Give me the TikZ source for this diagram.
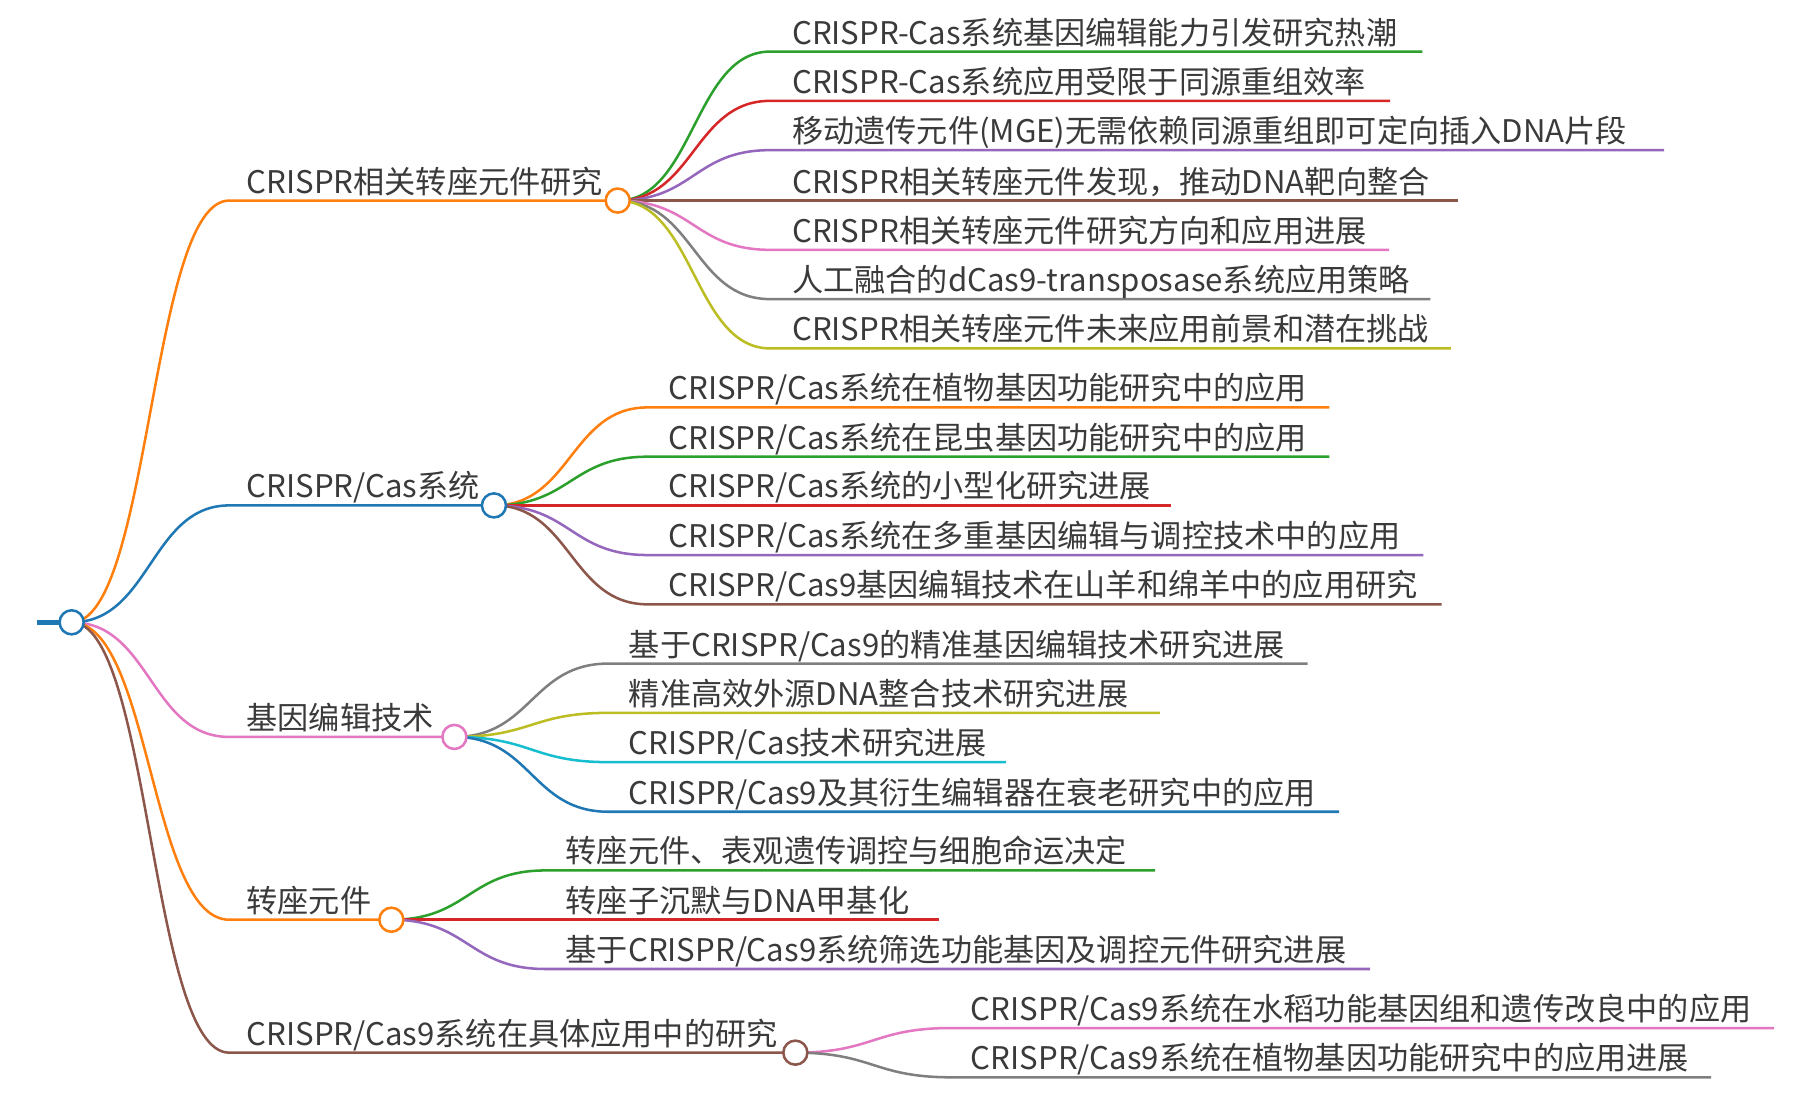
\documentclass[tikz,border=0pt]{standalone}
\usepackage{fontspec}
\setmainfont{Noto Sans CJK SC}
\usetikzlibrary{calc,backgrounds}
\definecolor{cblue}{HTML}{1F77B4}
\definecolor{corange}{HTML}{FF7F0E}
\definecolor{cgreen}{HTML}{2CA02C}
\definecolor{cred}{HTML}{D62728}
\definecolor{cpurple}{HTML}{9467BD}
\definecolor{cbrown}{HTML}{8C564B}
\definecolor{cpink}{HTML}{E377C2}
\definecolor{cgray}{HTML}{7F7F7F}
\definecolor{colive}{HTML}{BCBD22}
\definecolor{ccyan}{HTML}{17BECF}
\definecolor{txt}{HTML}{3A3A3A}
\begin{document}
\begin{tikzpicture}[x=1pt,y=-1pt,
  lbl/.style={anchor=base west, inner sep=0pt, text=txt, font=\fontsize{27.2}{30}\selectfont},
  dot/.style={circle, draw, fill=white, line width=2.2pt, minimum size=21pt, inner sep=0pt},
  lnk/.style={line width=2.2pt, to path={let \p1=(\tikztostart), \p2=(\tikztotarget) in
     .. controls ({(\x1+\x2)/2},\y1) and ({(\x1+\x2)/2},\y2) .. (\tikztotarget)}},
  seg/.style={line width=2.2pt}
]
\useasboundingbox (0,0) rectangle (1568,962);

% root
\coordinate (stub) at (32,543);
\node[dot, draw=cblue] (R) at (62.5,543) {};

% ---------- branch 1
\coordinate (b1s) at (200,175);
\node[dot, draw=corange] (b1) at (539,175) {};
\node[lbl] (b1t) at (215,168.5) {CRISPR相关转座元件研究};
\coordinate (l11s) at (672,45);  \coordinate (l11e) at (1241,45);
\coordinate (l12s) at (672,88);  \coordinate (l12e) at (1213,88);
\coordinate (l13s) at (672,131); \coordinate (l13e) at (1452,131);
\coordinate (l14s) at (672,175); \coordinate (l14e) at (1272,175);
\coordinate (l15s) at (672,218); \coordinate (l15e) at (1212,218);
\coordinate (l16s) at (672,261); \coordinate (l16e) at (1248,261);
\coordinate (l17s) at (672,304); \coordinate (l17e) at (1266,304);
\node[lbl] (l11) at (691,38.5)  {CRISPR-Cas系统基因编辑能力引发研究热潮};
\node[lbl] (l12) at (691,81.5)  {CRISPR-Cas系统应用受限于同源重组效率};
\node[lbl] (l13) at (691,124.5) {移动遗传元件(MGE)无需依赖同源重组即可定向插入DNA片段};
\node[lbl] (l14) at (691,168.5) {CRISPR相关转座元件发现，推动DNA靶向整合};
\node[lbl] (l15) at (691,211.5) {CRISPR相关转座元件研究方向和应用进展};
\node[lbl] (l16) at (691,254.5) {人工融合的dCas9-transposase系统应用策略};
\node[lbl] (l17) at (691,297.5) {CRISPR相关转座元件未来应用前景和潜在挑战};

% ---------- branch 2
\coordinate (b2s) at (200,441);
\node[dot, draw=cblue] (b2) at (431,441) {};
\node[lbl] (b2t) at (215,434.5) {CRISPR/Cas系统};
\coordinate (l21s) at (565,355.5); \coordinate (l21e) at (1160,355.5);
\coordinate (l22s) at (565,398.5); \coordinate (l22e) at (1160,398.5);
\coordinate (l23s) at (565,441);   \coordinate (l23e) at (1022,441);
\coordinate (l24s) at (565,484.3); \coordinate (l24e) at (1242,484.3);
\coordinate (l25s) at (565,527.3); \coordinate (l25e) at (1258,527.3);
\node[lbl] (l21) at (583,349)   {CRISPR/Cas系统在植物基因功能研究中的应用};
\node[lbl] (l22) at (583,392)   {CRISPR/Cas系统在昆虫基因功能研究中的应用};
\node[lbl] (l23) at (583,434.5) {CRISPR/Cas系统的小型化研究进展};
\node[lbl] (l24) at (583,477.8) {CRISPR/Cas系统在多重基因编辑与调控技术中的应用};
\node[lbl] (l25) at (583,520.8) {CRISPR/Cas9基因编辑技术在山羊和绵羊中的应用研究};

% ---------- branch 3
\coordinate (b3s) at (200,643);
\node[dot, draw=cpink] (b3) at (396.5,643) {};
\node[lbl] (b3t) at (215,636.5) {基因编辑技术};
\coordinate (l31s) at (531,579);   \coordinate (l31e) at (1141,579);
\coordinate (l32s) at (531,622);   \coordinate (l32e) at (1012,622);
\coordinate (l33s) at (531,665);   \coordinate (l33e) at (878,665);
\coordinate (l34s) at (531,708.3); \coordinate (l34e) at (1168.5,708.3);
\node[lbl] (l31) at (548.5,572.5) {基于CRISPR/Cas9的精准基因编辑技术研究进展};
\node[lbl] (l32) at (548.5,615.5) {精准高效外源DNA整合技术研究进展};
\node[lbl] (l33) at (548.5,658.5) {CRISPR/Cas技术研究进展};
\node[lbl] (l34) at (548.5,701.8) {CRISPR/Cas9及其衍生编辑器在衰老研究中的应用};

% ---------- branch 4
\coordinate (b4s) at (200,802.5);
\node[dot, draw=corange] (b4) at (341.5,802.5) {};
\node[lbl] (b4t) at (215,796) {转座元件};
\coordinate (l41s) at (476,759.5); \coordinate (l41e) at (1008,759.5);
\coordinate (l42s) at (476,802.5); \coordinate (l42e) at (819,802.5);
\coordinate (l43s) at (476,845.5); \coordinate (l43e) at (1195.5,845.5);
\node[lbl] (l41) at (493.5,753) {转座元件、表观遗传调控与细胞命运决定};
\node[lbl] (l42) at (493.5,796) {转座子沉默与DNA甲基化};
\node[lbl] (l43) at (493.5,839) {基于CRISPR/Cas9系统筛选功能基因及调控元件研究进展};

% ---------- branch 5
\coordinate (b5s) at (200,918.5);
\node[dot, draw=cbrown] (b5) at (694,918.5) {};
\node[lbl] (b5t) at (215,912) {CRISPR/Cas9系统在具体应用中的研究};
\coordinate (l51s) at (830,897); \coordinate (l51e) at (1548,897);
\coordinate (l52s) at (830,940); \coordinate (l52e) at (1493,940);
\node[lbl] (l51) at (847,890.5) {CRISPR/Cas9系统在水稻功能基因组和遗传改良中的应用};
\node[lbl] (l52) at (847,933.5) {CRISPR/Cas9系统在植物基因功能研究中的应用进展};

\begin{scope}[on background layer]
\draw[cblue, line width=4pt] (stub) -- (R.center);
% root links
\draw[lnk, corange] (R.center) to (b1s) -- (b1.center);
\draw[lnk, cblue]   (R.center) to (b2s) -- (b2.center);
\draw[lnk, cpink]   (R.center) to (b3s) -- (b3.center);
\draw[lnk, corange] (R.center) to (b4s) -- (b4.center);
\draw[lnk, cbrown]  (R.center) to (b5s) -- (b5.center);
% branch 1 leaves
\draw[lnk, cgreen]  (b1.center) to (l11s) -- (l11e);
\draw[lnk, cred]    (b1.center) to (l12s) -- (l12e);
\draw[lnk, cpurple] (b1.center) to (l13s) -- (l13e);
\draw[lnk, cbrown]  (b1.center) to (l14s) -- (l14e);
\draw[lnk, cpink]   (b1.center) to (l15s) -- (l15e);
\draw[lnk, cgray]   (b1.center) to (l16s) -- (l16e);
\draw[lnk, colive]  (b1.center) to (l17s) -- (l17e);
% branch 2 leaves
\draw[lnk, corange] (b2.center) to (l21s) -- (l21e);
\draw[lnk, cgreen]  (b2.center) to (l22s) -- (l22e);
\draw[lnk, cred]    (b2.center) to (l23s) -- (l23e);
\draw[lnk, cpurple] (b2.center) to (l24s) -- (l24e);
\draw[lnk, cbrown]  (b2.center) to (l25s) -- (l25e);
% branch 3 leaves
\draw[lnk, cgray]   (b3.center) to (l31s) -- (l31e);
\draw[lnk, colive]  (b3.center) to (l32s) -- (l32e);
\draw[lnk, ccyan]   (b3.center) to (l33s) -- (l33e);
\draw[lnk, cblue]   (b3.center) to (l34s) -- (l34e);
% branch 4 leaves
\draw[lnk, cgreen]  (b4.center) to (l41s) -- (l41e);
\draw[lnk, cred]    (b4.center) to (l42s) -- (l42e);
\draw[lnk, cpurple] (b4.center) to (l43s) -- (l43e);
% branch 5 leaves
\draw[lnk, cpink]   (b5.center) to (l51s) -- (l51e);
\draw[lnk, cgray]   (b5.center) to (l52s) -- (l52e);
\end{scope}
\end{tikzpicture}
\end{document}
